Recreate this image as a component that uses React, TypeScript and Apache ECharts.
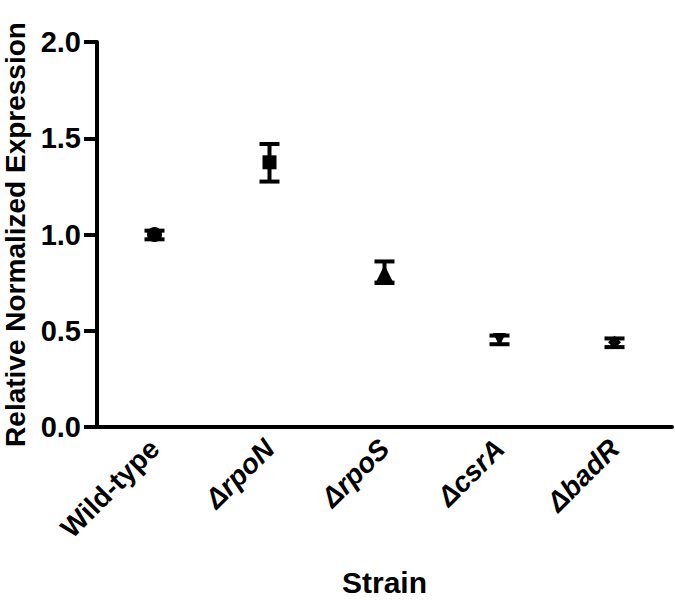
import React, { useEffect, useRef } from "react";
import * as echarts from "echarts";

const categories = ["Wild-type", "ΔrpoN", "ΔrpoS", "ΔcsrA", "ΔbadR"];
const means = [1.0, 1.375, 0.79, 0.455, 0.44];
const errLow = [0.975, 1.275, 0.75, 0.43, 0.415];
const errHigh = [1.02, 1.47, 0.86, 0.475, 0.46];
const symbols = ["circle", "rect", "triangle", "triangle", "diamond"];
const rotations = [0, 0, 0, 180, 0];
const sizes = [15, 14, 20, 13, 13];

const FONT = "'Liberation Sans', Arial, sans-serif";

export default function App() {
  const ref = useRef<HTMLDivElement>(null);
  useEffect(() => {
    if (!ref.current) return;
    const chart = echarts.init(ref.current, null, { renderer: "svg" });
    const errData = categories.map((_, i) => [i, errLow[i], errHigh[i]]);
    const scatterData = categories.map((_, i) => ({
      value: [i, means[i]],
      symbol: symbols[i],
      symbolRotate: rotations[i],
      symbolSize: sizes[i],
    }));
    chart.setOption({
      animation: false,
      grid: { left: 97, right: 3, top: 42, bottom: 173, containLabel: false, outerBoundsMode: "none" },
      xAxis: {
        type: "category",
        data: categories,
        boundaryGap: true,
        name: "Strain",
        nameLocation: "middle",
        nameGap: 140,
        nameTextStyle: { fontFamily: FONT, fontWeight: "bold", fontSize: 30, color: "#000" },
        axisLine: { lineStyle: { color: "#000", width: 4 } },
        axisTick: { alignWithLabel: true, length: 13, lineStyle: { color: "#000", width: 4 } },
        axisLabel: {
          rotate: 45,
          margin: 17,
          interval: 0,
          fontFamily: FONT,
          fontWeight: "bold",
          fontSize: 28,
          color: "#000",
          formatter: (v: string) => (v === "Wild-type" ? v : "{it|" + v + "}"),
          rich: {
            it: { fontFamily: FONT, fontWeight: "bold", fontStyle: "italic", fontSize: 28, color: "#000" },
          },
        },
        splitLine: { show: false },
      },
      yAxis: {
        type: "value",
        min: 0,
        max: 2,
        interval: 0.5,
        name: "Relative Normalized Expression",
        nameLocation: "middle",
        nameGap: 68,
        nameTextStyle: { fontFamily: FONT, fontWeight: "bold", fontSize: 28, color: "#000" },
        axisLine: { show: true, lineStyle: { color: "#000", width: 4 } },
        axisTick: { show: true, length: 13, lineStyle: { color: "#000", width: 4 } },
        axisLabel: {
          margin: 16,
          fontFamily: FONT,
          fontWeight: "bold",
          fontSize: 29,
          color: "#000",
          formatter: (v: number) => v.toFixed(1),
        },
        splitLine: { show: false },
      },
      series: [
        {
          type: "custom",
          data: errData,
          renderItem: (params: any, api: any) => {
            const x = api.value(0);
            const lo = api.coord([x, api.value(1)]);
            const hi = api.coord([x, api.value(2)]);
            const hw = 10;
            const style = { stroke: "#000", lineWidth: 4 };
            return {
              type: "group",
              children: [
                { type: "line", shape: { x1: lo[0], y1: lo[1], x2: hi[0], y2: hi[1] }, style },
                { type: "line", shape: { x1: lo[0] - hw, y1: lo[1], x2: lo[0] + hw, y2: lo[1] }, style },
                { type: "line", shape: { x1: hi[0] - hw, y1: hi[1], x2: hi[0] + hw, y2: hi[1] }, style },
              ],
            };
          },
          z: 2,
        },
        {
          type: "scatter",
          data: scatterData,
          itemStyle: { color: "#000", opacity: 1 },
          z: 3,
        },
      ],
    });
    return () => chart.dispose();
  }, []);
  return <div ref={ref} style={{ width: 675, height: 600, position: "absolute", left: 0, top: 0 }} />;
}
